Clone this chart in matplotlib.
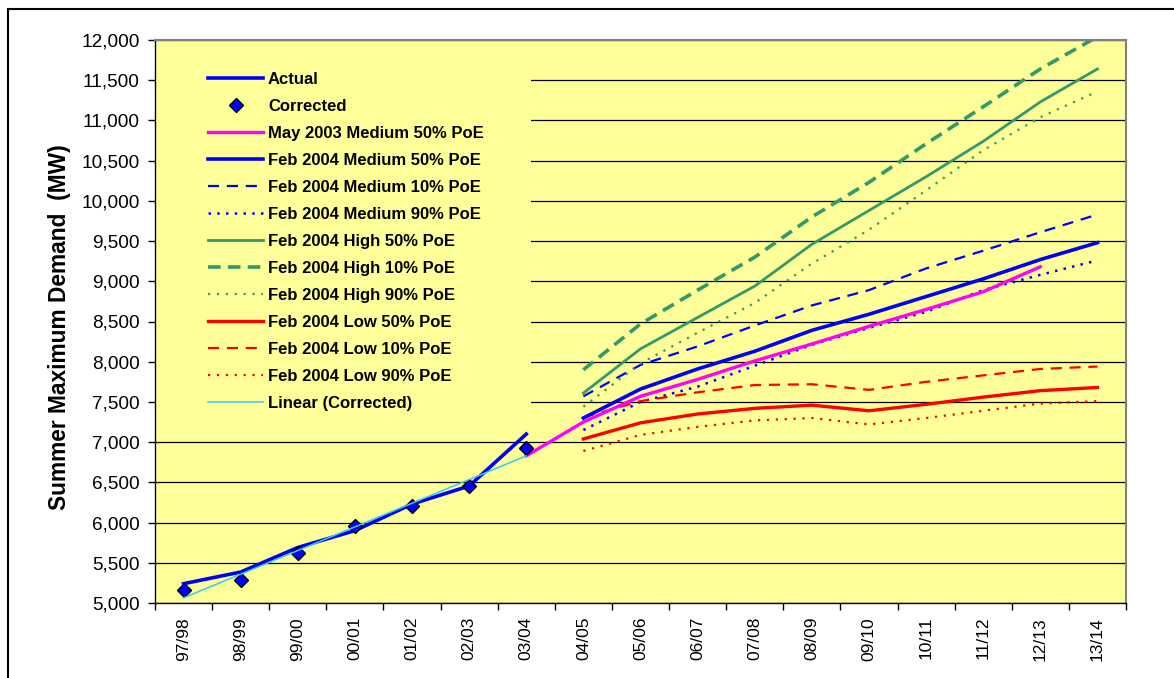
import numpy as np
import matplotlib
matplotlib.use('Agg')
import matplotlib.pyplot as plt
from matplotlib.patches import Rectangle
from matplotlib.ticker import FuncFormatter

plt.rcParams['font.family'] = ['Liberation Sans', 'DejaVu Sans']

# financial years on the x axis
years = ['97/98', '98/99', '99/00', '00/01', '01/02', '02/03', '03/04', '04/05',
         '05/06', '06/07', '07/08', '08/09', '09/10', '10/11', '11/12', '12/13', '13/14']

# history (97/98 .. 03/04)
actual = [5240, 5385, 5690, 5900, 6230, 6455, 7100]
corrected = [5160, 5290, 5620, 5960, 6206, 6460, 6930]

# May 2003 forecast (03/04 .. 12/13)
may03_med50 = [6830, 7250, 7570, 7780, 8010, 8220, 8440, 8650, 8870, 9180]

# Feb 2004 forecasts (04/05 .. 13/14)
med50 = [7300, 7660, 7910, 8130, 8390, 8590, 8810, 9030, 9270, 9480]
med10 = [7570, 7960, 8190, 8450, 8700, 8890, 9160, 9380, 9610, 9830]
med90 = [7150, 7500, 7690, 7950, 8210, 8420, 8620, 8890, 9080, 9260]
high50 = [7610, 8160, 8550, 8940, 9460, 9880, 10300, 10740, 11230, 11640]
high10 = [7900, 8470, 8890, 9300, 9800, 10230, 10710, 11170, 11640, 12040]
high90 = [7440, 7980, 8360, 8730, 9220, 9640, 10130, 10630, 11040, 11360]
low50 = [7040, 7240, 7350, 7420, 7460, 7390, 7470, 7560, 7640, 7680]
low10 = [7310, 7510, 7620, 7710, 7720, 7650, 7750, 7830, 7910, 7940]
low90 = [6890, 7090, 7190, 7270, 7300, 7220, 7300, 7390, 7480, 7510]

x_hist = np.arange(len(actual))
x_may = np.arange(6, 6 + len(may03_med50))
x_feb = np.arange(7, 7 + len(med50))

# Excel style linear trendline through the corrected points
coef = np.polyfit(x_hist, corrected, 1)
trend = np.polyval(coef, x_hist)

fig = plt.figure(figsize=(11.74, 6.78), dpi=100)
ax = fig.add_axes([155 / 1174, 1 - 603 / 678, (1126 - 155) / 1174, (603 - 40) / 678])
ax.set_facecolor('#FFFF99')

blue = '#0000FF'
green = '#339966'
red = '#FF0000'

ax.plot(x_hist, actual, color=blue, lw=2.6, label='Actual', zorder=5)
ax.plot(x_hist, corrected, ls='none', marker='D', ms=7.5, mfc=blue, mec='black',
        mew=1.0, label='Corrected', zorder=6)
ax.plot(x_may, may03_med50, color='#FF00FF', lw=2.4, label='May 2003 Medium 50% PoE', zorder=4)
ax.plot(x_feb, med50, color=blue, lw=2.6, label='Feb 2004 Medium 50% PoE', zorder=4)
ax.plot(x_feb, med10, color=blue, lw=1.6, ls=(0, (5, 3.5)), label='Feb 2004 Medium 10% PoE')
ax.plot(x_feb, med90, color=blue, lw=1.8, ls=(0, (1, 2.5)), label='Feb 2004 Medium 90% PoE')
ax.plot(x_feb, high50, color=green, lw=2.0, label='Feb 2004 High 50% PoE')
ax.plot(x_feb, high10, color=green, lw=2.6, ls=(0, (3.5, 2)), label='Feb 2004 High 10% PoE')
ax.plot(x_feb, high90, color=green, lw=1.6, ls=(0, (1, 3)), label='Feb 2004 High 90% PoE')
ax.plot(x_feb, low50, color=red, lw=2.4, label='Feb 2004 Low 50% PoE')
ax.plot(x_feb, low10, color=red, lw=1.6, ls=(0, (5, 3.5)), label='Feb 2004 Low 10% PoE')
ax.plot(x_feb, low90, color=red, lw=1.6, ls=(0, (1, 3)), label='Feb 2004 Low 90% PoE')
ax.plot(x_hist, trend, color='#33CCEE', lw=1.1, label='Linear (Corrected)', zorder=7)

ax.set_xlim(-0.5, len(years) - 0.5)
ax.set_ylim(5000, 12000)
ax.set_yticks(np.arange(5000, 12001, 500))
ax.yaxis.set_major_formatter(FuncFormatter(lambda v, p: f'{int(v):,}'))
ax.yaxis.grid(True, color='black', lw=0.9)
ax.set_axisbelow(True)

ax.set_xticks(np.arange(len(years)))
ax.set_xticklabels(years, rotation=90, fontsize=12.5)
ax.set_xticks(np.arange(-0.5, len(years)), minor=True)
ax.tick_params(axis='x', which='major', length=0, pad=10)
ax.tick_params(axis='x', which='minor', length=5, width=1, direction='out')
ax.tick_params(axis='y', length=5, width=1, direction='out', labelsize=13.7, pad=6)

for s in ['top', 'right']:
    ax.spines[s].set_color('#808080')
    ax.spines[s].set_linewidth(1.5)
for s in ['left', 'bottom']:
    ax.spines[s].set_color('black')
    ax.spines[s].set_linewidth(1.0)

ax.set_ylabel('Summer Maximum Demand  (MW)', fontsize=16.4, fontweight='bold')
ax.yaxis.set_label_coords(-0.087, 0.490)

# the legend sits on an opaque yellow box that hides the gridlines behind it
ax.add_patch(Rectangle((0.001, 0.325), 0.386, 0.648, transform=ax.transAxes,
                       facecolor='#FFFF99', edgecolor='none', zorder=1))
leg = ax.legend(loc='upper left', bbox_to_anchor=(0.0546, 0.943), frameon=False,
                prop={'weight': 'bold', 'size': 12}, handlelength=3.3, handletextpad=0.3,
                labelspacing=0.72, borderpad=0, borderaxespad=0)

# outer chart border (only top and left edges fall inside the image)
fig.add_artist(Rectangle((8 / 1174, -0.1), 1.2, 1.1 - 9 / 678, transform=fig.transFigure,
                         fill=False, edgecolor='black', lw=1.5))

fig.savefig('out.png', dpi=100)
